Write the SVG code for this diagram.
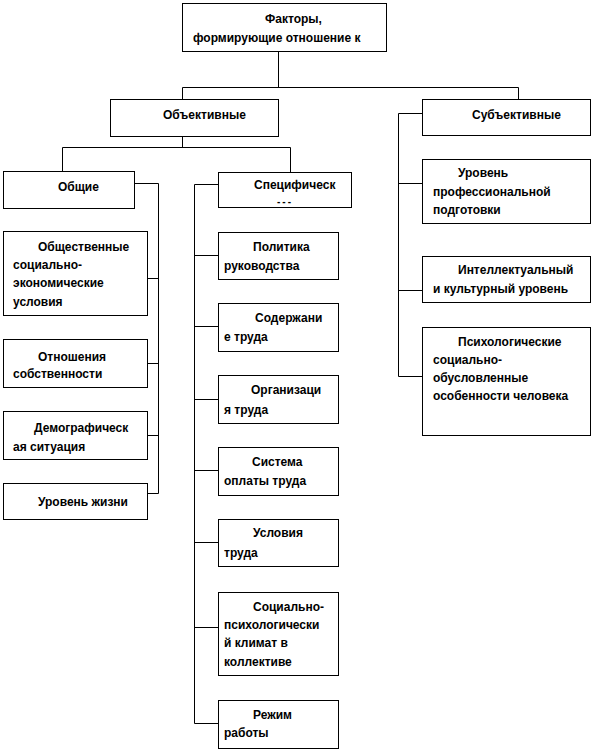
<svg xmlns="http://www.w3.org/2000/svg" width="594" height="750" viewBox="0 0 594 750">
<style>
.box{fill:#fff;stroke:#000;stroke-width:1}
.t{font-family:"Liberation Sans",Arial,sans-serif;font-weight:bold;font-size:12px;fill:#000}
.c{fill:none;stroke:#000;stroke-width:1}
</style>
<rect width="594" height="750" fill="#fff"/>
<g id="connectors">
<path class="c" d="M278.5 51V87.5M182.5 99V87.5H518.5V99"/>
<path class="c" d="M182.5 136V147.5M62.5 171V147.5H290.5V172"/>
<path class="c" d="M134 183.5H158.5V493.5H147M147 278.5H158.5M147 363.5H158.5M147 435.5H158.5"/>
<path class="c" d="M218 184.5H194.5V723.5H218M194.5 255.5H218M194.5 326.5H218M194.5 399.5H218M194.5 470.5H218M194.5 542.5H218M194.5 627.5H218"/>
<path class="c" d="M422 113.5H398.5V376.5H422M398.5 183.5H422M398.5 290.5H422"/>
</g>
<g id="root"><rect class="box" x="182.5" y="3.5" width="204" height="48"/>
<text class="t" x="265" y="23">Факторы,</text><text class="t" x="193" y="42">формирующие отношение к</text></g>
<g id="objective"><rect class="box" x="110.5" y="99.5" width="168" height="37"/><text class="t" x="163" y="119">Объективные</text></g>
<g id="subjective"><rect class="box" x="422.5" y="99.5" width="168" height="36"/><text class="t" x="472" y="119">Субъективные</text></g>
<g id="general"><rect class="box" x="3.5" y="171.5" width="131" height="37"/><text class="t" x="58" y="191">Общие</text></g>
<g id="specific"><rect class="box" x="218.5" y="172.5" width="133" height="35"/><text class="t" x="254" y="189">Специфическ</text><text class="t" x="277" y="205" style="font-size:10px;letter-spacing:2px">---</text></g>
<g id="g1"><rect class="box" x="3.5" y="231.5" width="144" height="84"/>
<text class="t" x="38" y="251">Общественные</text><text class="t" x="13" y="269">социально-</text><text class="t" x="13" y="287">экономические</text><text class="t" x="13" y="306">условия</text></g>
<g id="g2"><rect class="box" x="3.5" y="339.5" width="144" height="48"/>
<text class="t" x="38" y="361">Отношения</text><text class="t" x="13" y="378">собственности</text></g>
<g id="g3"><rect class="box" x="3.5" y="411.5" width="144" height="48"/>
<text class="t" x="34" y="432">Демографическ</text><text class="t" x="13" y="451">ая ситуация</text></g>
<g id="g4"><rect class="box" x="3.5" y="483.5" width="144" height="36"/>
<text class="t" x="38" y="506">Уровень жизни</text></g>
<g id="s1"><rect class="box" x="218.5" y="232.5" width="120" height="47"/>
<text class="t" x="253" y="251">Политика</text><text class="t" x="224" y="270">руководства</text></g>
<g id="s2"><rect class="box" x="218.5" y="303.5" width="120" height="48"/>
<text class="t" x="255" y="322">Содержани</text><text class="t" x="224" y="341">е труда</text></g>
<g id="s3"><rect class="box" x="218.5" y="375.5" width="120" height="48"/>
<text class="t" x="251" y="394">Организаци</text><text class="t" x="224" y="414">я труда</text></g>
<g id="s4"><rect class="box" x="218.5" y="447.5" width="120" height="48"/>
<text class="t" x="252" y="466">Система</text><text class="t" x="224" y="485">оплаты труда</text></g>
<g id="s5"><rect class="box" x="218.5" y="519.5" width="120" height="47"/>
<text class="t" x="253" y="537">Условия</text><text class="t" x="224" y="557">труда</text></g>
<g id="s6"><rect class="box" x="218.5" y="592.5" width="120" height="83"/>
<text class="t" x="253" y="611">Социально-</text><text class="t" x="224" y="629">психологически</text><text class="t" x="224" y="647">й климат в</text><text class="t" x="224" y="666">коллективе</text></g>
<g id="s7"><rect class="box" x="218.5" y="700.5" width="120" height="48"/>
<text class="t" x="253" y="719">Режим</text><text class="t" x="224" y="737">работы</text></g>
<g id="r1"><rect class="box" x="422.5" y="159.5" width="168" height="64"/>
<text class="t" x="458" y="177">Уровень</text><text class="t" x="433" y="196">профессиональной</text><text class="t" x="433" y="214">подготовки</text></g>
<g id="r2"><rect class="box" x="422.5" y="256.5" width="168" height="46"/>
<text class="t" x="458" y="274">Интеллектуальный</text><text class="t" x="433" y="293">и культурный уровень</text></g>
<g id="r3"><rect class="box" x="422.5" y="327.5" width="168" height="108"/>
<text class="t" x="458" y="346">Психологические</text><text class="t" x="433" y="364">социально-</text><text class="t" x="433" y="382">обусловленные</text><text class="t" x="433" y="400">особенности человека</text></g>
</svg>
